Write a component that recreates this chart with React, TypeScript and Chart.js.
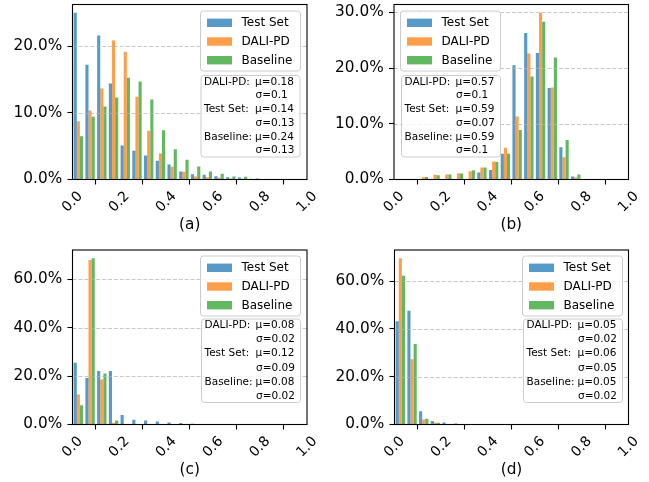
import { useEffect, useRef } from "react";
import { Chart, registerables } from "chart.js";

Chart.register(...registerables);

// ---------------- data ----------------
const BIN_CENTERS = [
  0.025, 0.075, 0.125, 0.175, 0.225, 0.275, 0.325, 0.375, 0.425, 0.475,
  0.525, 0.575, 0.625, 0.675, 0.725, 0.775, 0.825, 0.875, 0.925, 0.975,
];
const X_TICKS = [0, 0.2, 0.4, 0.6, 0.8, 1.0];
const SERIES_NAMES = ["Test Set", "DALI-PD", "Baseline"];
const STAT_LABELS = ["DALI-PD:", "Test Set:", "Baseline:"];

// (a) values in percent
const TEST_A = [25.0, 17.2, 21.6, 14.4, 5.1, 4.3, 3.6, 2.8, 2.25, 1.2, 0.8, 0.7, 0.5, 0.35, 0.3, 0.1, 0, 0, 0, 0];
const DALI_A = [8.75, 10.35, 13.65, 20.85, 19.15, 12.4, 7.3, 3.9, 1.9, 1.15, 0.45, 0.35, 0.25, 0.15, 0.1, 0.05, 0, 0, 0, 0];
const BASE_A = [6.5, 9.4, 10.95, 12.3, 15.25, 14.7, 12.0, 7.4, 4.55, 2.95, 1.95, 1.2, 0.85, 0.45, 0.4, 0.15, 0.05, 0, 0, 0];
const Y_TICKS_A = [0, 10, 20];
const MU_A = [0.18, 0.14, 0.24];
const SIGMA_A = [0.1, 0.13, 0.13];

// (b)
const TEST_B = [0, 0, 0, 0, 0, 0, 0.05, 1.26, 1.7, 4.6, 20.5, 26.3, 22.7, 16.4, 5.8, 0.55, 0, 0, 0, 0];
const DALI_B = [0, 0, 0.41, 0.83, 0.89, 1.13, 1.49, 2.16, 3.24, 5.7, 11.3, 22.6, 29.9, 16.5, 4.0, 0.35, 0, 0, 0, 0];
const BASE_B = [0, 0, 0.47, 0.77, 0.89, 1.07, 1.67, 2.16, 3.12, 4.6, 8.9, 18.5, 28.3, 21.9, 7.1, 0.9, 0, 0, 0, 0];
const Y_TICKS_B = [0, 10, 20, 30];
const MU_B = [0.57, 0.59, 0.59];
const SIGMA_B = [0.1, 0.07, 0.1];

// (c)
const TEST_C = [25.5, 19.2, 22.1, 22.1, 3.9, 2.0, 1.6, 1.2, 0.85, 0.6, 0.35, 0.15, 0, 0, 0, 0, 0, 0, 0, 0];
const DALI_C = [12.4, 67.9, 18.6, 0.7, 0, 0, 0, 0, 0, 0, 0, 0, 0, 0, 0, 0, 0, 0, 0, 0];
const BASE_C = [7.9, 68.6, 21.1, 1.65, 0, 0, 0, 0, 0, 0, 0, 0, 0, 0, 0, 0, 0, 0, 0, 0];
const Y_TICKS_C = [0, 20, 40, 60];
const MU_C = [0.08, 0.12, 0.08];
const SIGMA_C = [0.02, 0.09, 0.02];

// (d)
const TEST_D = [43.2, 47.6, 5.5, 1.5, 0.8, 0.4, 0.2, 0, 0, 0, 0, 0, 0, 0, 0, 0, 0, 0, 0, 0];
const DALI_D = [69.5, 27.3, 2.1, 0.7, 0.2, 0, 0, 0, 0, 0, 0, 0, 0, 0, 0, 0, 0, 0, 0, 0];
const BASE_D = [62.2, 33.7, 2.4, 0.7, 0.2, 0, 0, 0, 0, 0, 0, 0, 0, 0, 0, 0, 0, 0, 0, 0];
const Y_TICKS_D = [0, 20, 40, 60];
const MU_D = [0.05, 0.06, 0.05];
const SIGMA_D = [0.02, 0.05, 0.02];

// ---------------- styling / layout ----------------
const W = 649;
const H = 482;
const FONT = "'DejaVu Sans', 'Liberation Sans', sans-serif";
const AXIS_FONT_SIZE = 15.3;
const XTICK_FONT_SIZE = 14;
const COLORS = ["rgba(31,119,180,0.75)", "rgba(255,127,14,0.75)", "rgba(44,160,44,0.75)"];
const X_AXIS_H = 55;

type Panel = {
  id: string;
  caption: string;
  series: number[][];
  yTicks: number[];
  mu: number[];
  sigma: number[];
  area: { left: number; top: number; right: number; bottom: number };
  legend: { x: number; y: number };
  stats: { x: number; y: number; h: number };
};

const PANELS: Panel[] = [
  {
    id: "a", caption: "(a)", series: [TEST_A, DALI_A, BASE_A], yTicks: Y_TICKS_A, mu: MU_A, sigma: SIGMA_A,
    area: { left: 72.5, top: 4.5, right: 307, bottom: 179.5 },
    legend: { x: 200.5, y: 11 }, stats: { x: 201, y: 75.5, h: 81.5 },
  },
  {
    id: "b", caption: "(b)", series: [TEST_B, DALI_B, BASE_B], yTicks: Y_TICKS_B, mu: MU_B, sigma: SIGMA_B,
    area: { left: 394, top: 4.5, right: 628.5, bottom: 179.5 },
    legend: { x: 400.5, y: 11 }, stats: { x: 401.5, y: 75.5, h: 81.5 },
  },
  {
    id: "c", caption: "(c)", series: [TEST_C, DALI_C, BASE_C], yTicks: Y_TICKS_C, mu: MU_C, sigma: SIGMA_C,
    area: { left: 72.5, top: 250, right: 307, bottom: 424.5 },
    legend: { x: 200.5, y: 256 }, stats: { x: 201.5, y: 319, h: 83.5 },
  },
  {
    id: "d", caption: "(d)", series: [TEST_D, DALI_D, BASE_D], yTicks: Y_TICKS_D, mu: MU_D, sigma: SIGMA_D,
    area: { left: 394.5, top: 250, right: 628.5, bottom: 424.5 },
    legend: { x: 522.5, y: 256 }, stats: { x: 523.5, y: 319, h: 83.5 },
  },
];

function roundRectPath(ctx: CanvasRenderingContext2D, x: number, y: number, w: number, h: number, r: number) {
  ctx.beginPath();
  ctx.moveTo(x + r, y);
  ctx.lineTo(x + w - r, y);
  ctx.arcTo(x + w, y, x + w, y + r, r);
  ctx.lineTo(x + w, y + h - r);
  ctx.arcTo(x + w, y + h, x + w - r, y + h, r);
  ctx.lineTo(x + r, y + h);
  ctx.arcTo(x, y + h, x, y + h - r, r);
  ctx.lineTo(x, y + r);
  ctx.arcTo(x, y, x + r, y, r);
  ctx.closePath();
}

function makePlugin(p: Panel) {
  return {
    id: "panelDecor" + p.id,
    afterDatasetsDraw(chart: any) {
      const { ctx, chartArea } = chart;
      const ys = chart.scales.y;
      ctx.save();
      ctx.strokeStyle = "rgba(176,176,176,0.7)";
      ctx.lineWidth = 1;
      ctx.setLineDash([4.1, 1.8]);
      p.yTicks.forEach((v) => {
        if (v === 0) return;
        const py = Math.round(ys.getPixelForValue(v)) + 0.5;
        ctx.beginPath();
        ctx.moveTo(chartArea.left, py);
        ctx.lineTo(chartArea.right, py);
        ctx.stroke();
      });
      ctx.restore();
    },
    afterDraw(chart: any) {
      const { ctx, chartArea } = chart;
      const xs = chart.scales.x;
      ctx.save();
      // frame
      ctx.strokeStyle = "#000";
      ctx.lineWidth = 1.1;
      ctx.setLineDash([]);
      ctx.strokeRect(chartArea.left, chartArea.top, chartArea.right - chartArea.left, chartArea.bottom - chartArea.top);

      // rotated x tick labels (centered under tick like matplotlib)
      ctx.fillStyle = "#000";
      ctx.font = `${XTICK_FONT_SIZE}px ${FONT}`;
      ctx.textAlign = "center";
      ctx.textBaseline = "middle";
      X_TICKS.forEach((v) => {
        const px = xs.getPixelForValue(v);
        ctx.save();
        ctx.translate(px, chartArea.bottom + 22.5);
        ctx.rotate(-Math.PI / 4);
        ctx.fillText(v.toFixed(1), 0, 0);
        ctx.restore();
      });

      // legend
      const lw = 100, lh = 60;
      roundRectPath(ctx, p.legend.x, p.legend.y, lw, lh, 3);
      ctx.fillStyle = "rgba(255,255,255,0.8)";
      ctx.fill();
      ctx.strokeStyle = "#cccccc";
      ctx.lineWidth = 1;
      ctx.stroke();
      const rows = [11.8, 30.5, 49.2];
      ctx.font = `12px ${FONT}`;
      ctx.textAlign = "left";
      ctx.textBaseline = "middle";
      SERIES_NAMES.forEach((name, i) => {
        ctx.fillStyle = COLORS[i];
        ctx.fillRect(p.legend.x + 6.5, p.legend.y + rows[i] - 4.2, 25, 8.4);
        ctx.fillStyle = "#000";
        ctx.fillText(name, p.legend.x + 41, p.legend.y + rows[i] + 0.5);
      });

      // stats box
      roundRectPath(ctx, p.stats.x, p.stats.y, 99, p.stats.h, 3);
      ctx.fillStyle = "rgba(255,255,255,0.8)";
      ctx.fill();
      ctx.strokeStyle = "#cccccc";
      ctx.stroke();
      ctx.fillStyle = "#000";
      ctx.font = `10.5px ${FONT}`;
      const step = (p.stats.h - 13) / 5;
      STAT_LABELS.forEach((lab, i) => {
        const y1 = p.stats.y + 6.5 + step * 2 * i;
        const y2 = y1 + step;
        ctx.fillText(lab, p.stats.x + 3, y1);
        ctx.fillText("\u03bc=" + p.mu[i], p.stats.x + 54, y1);
        ctx.fillText("\u03c3=" + p.sigma[i], p.stats.x + 54.5, y2);
      });
      ctx.restore();
    },
  };
}

function makeConfig(p: Panel): any {
  const allVals = ([] as number[]).concat(...p.series);
  const yMax = Math.max(...allVals) * 1.05;
  const a = p.area;
  return {
    type: "bar",
    data: {
      datasets: p.series.map((vals, i) => ({
        label: SERIES_NAMES[i],
        data: BIN_CENTERS.map((x, j) => ({ x, y: vals[j] })),
        backgroundColor: COLORS[i],
        borderWidth: 0,
        categoryPercentage: 0.8,
        barPercentage: 1.0,
      })),
    },
    options: {
      responsive: false,
      maintainAspectRatio: false,
      animation: false,
      devicePixelRatio: 1,
      events: [],
      layout: {
        padding: { left: 0, top: a.top, right: W - a.right, bottom: H - a.bottom - X_AXIS_H },
      },
      scales: {
        x: {
          type: "linear",
          min: 0,
          max: 1,
          offset: false,
          afterBuildTicks: (s: any) => {
            s.ticks = X_TICKS.map((v) => ({ value: v }));
          },
          afterFit: (s: any) => {
            s.height = X_AXIS_H;
            s.paddingLeft = 0; s.paddingRight = 0; s.paddingTop = 0; s.paddingBottom = 0;
          },
          ticks: { display: false },
          grid: { drawOnChartArea: false, drawTicks: true, tickLength: 5, tickColor: "#000", tickWidth: 1.1 },
          border: { display: false },
          title: {
            display: true,
            text: p.caption,
            color: "#000",
            font: { family: FONT, size: AXIS_FONT_SIZE, lineHeight: 1.2 },
            padding: 0,
          },
        },
        y: {
          type: "linear",
          min: 0,
          max: yMax,
          afterBuildTicks: (s: any) => {
            s.ticks = p.yTicks.map((v) => ({ value: v }));
          },
          afterFit: (s: any) => {
            s.width = a.left;
            s.paddingLeft = 0; s.paddingRight = 0; s.paddingTop = 0; s.paddingBottom = 0;
          },
          ticks: {
            callback: (v: any) => Number(v).toFixed(1) + "%",
            color: "#000",
            font: { family: FONT, size: AXIS_FONT_SIZE },
            padding: 5.3,
            autoSkip: false,
          },
          grid: { drawOnChartArea: false, drawTicks: true, tickLength: 5, tickColor: "#000", tickWidth: 1.1 },
          border: { display: false },
        },
      },
      plugins: {
        legend: { display: false },
        tooltip: { enabled: false },
        title: { display: false },
      },
    },
    plugins: [makePlugin(p)],
  };
}

function PanelChart({ p }: { p: Panel }) {
  const ref = useRef<HTMLCanvasElement>(null);
  useEffect(() => {
    if (!ref.current) return;
    const chart = new Chart(ref.current, makeConfig(p));
    return () => chart.destroy();
  }, [p]);
  return (
    <canvas
      ref={ref}
      width={W}
      height={H}
      style={{ position: "absolute", left: 0, top: 0, width: W, height: H }}
    />
  );
}

export default function App() {
  return (
    <div style={{ position: "absolute", left: 0, top: 0, width: W, height: H, background: "#fff", overflow: "hidden" }}>
      {PANELS.map((p) => (
        <PanelChart key={p.id} p={p} />
      ))}
    </div>
  );
}
